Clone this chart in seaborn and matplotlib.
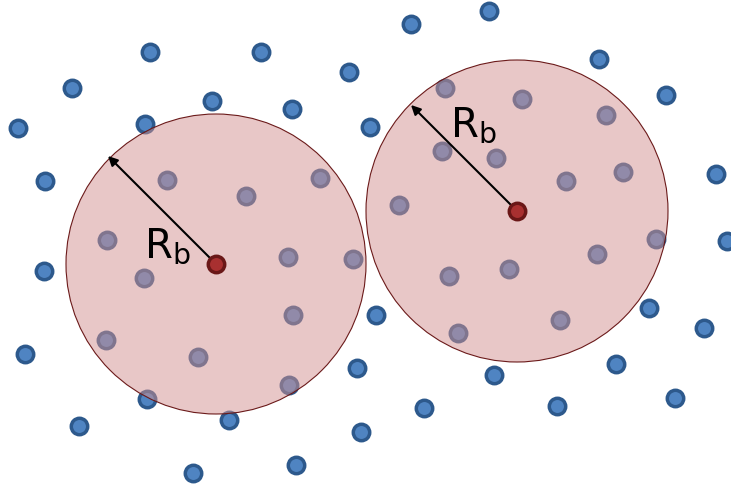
import pandas as pd
import matplotlib.pyplot as plt
from matplotlib.patches import Circle
import seaborn as sns

# scattered particles (pixel coords, y down)
blue_x = [411, 489, 150, 261, 72, 349, 599, 212, 292, 666, 18, 145, 370, 45, 716,
          727, 44, 376, 649, 704, 25, 357, 494, 616, 147, 229, 424, 557, 675, 79,
          361, 193, 296,
          167, 246, 320, 107, 144, 288, 353, 293, 106, 198, 289,
          445, 522, 606, 442, 496, 566, 623, 399, 656, 449, 509, 597, 458, 560]
blue_y = [25, 12, 53, 53, 89, 73, 60, 102, 110, 96, 129, 125, 128, 182, 175,
          242, 272, 316, 309, 329, 355, 369, 376, 365, 400, 421, 409, 407, 399, 427,
          433, 474, 466,
          181, 197, 179, 241, 279, 258, 260, 316, 341, 358, 386,
          89, 100, 116, 152, 159, 182, 173, 206, 240, 277, 270, 255, 334, 321]

# bubble centres, radius and arrow tips
center_x = [216, 517]
center_y = [265, 212]
radius = [150, 151]
tip_x = [108, 411]
tip_y = [157, 106]
label_x = [167, 473]
label_y = [246, 125]

pts = pd.DataFrame({"x": blue_x, "y": blue_y})
cen = pd.DataFrame({"x": center_x, "y": center_y})

fig = plt.figure(figsize=(7.31, 4.89), dpi=100)
ax = fig.add_axes([0, 0, 1, 1])

sns.scatterplot(data=pts, x="x", y="y", ax=ax, s=140, color="#4f84c2",
                edgecolor="#2d598c", linewidth=2.5, zorder=2)

for cx, cy, r in zip(center_x, center_y, radius):
    ax.add_patch(Circle((cx, cy), r, facecolor="#d39191", alpha=0.5,
                        edgecolor="none", zorder=3))
    ax.add_patch(Circle((cx, cy), r, facecolor="none", edgecolor="#6b1a1a",
                        linewidth=0.8, zorder=3))

sns.scatterplot(data=cen, x="x", y="y", ax=ax, s=140, color="#a83030",
                edgecolor="#6a1717", linewidth=2.5, zorder=5)

for cx, cy, tx, ty, lx, ly in zip(center_x, center_y, tip_x, tip_y, label_x, label_y):
    ax.annotate("", xy=(tx, ty), xytext=(cx, cy), zorder=4,
                arrowprops=dict(arrowstyle="-|>", color="black", lw=1.5,
                                mutation_scale=14, shrinkA=0, shrinkB=0))
    ax.text(lx, ly, r"R$_\mathrm{b}$", fontsize=29, ha="center", va="center",
            color="black", zorder=6)

ax.set_xlim(0, 731)
ax.set_ylim(489, 0)
ax.set_aspect("equal")
ax.axis("off")

fig.savefig("out.png", dpi=100, facecolor="w")
